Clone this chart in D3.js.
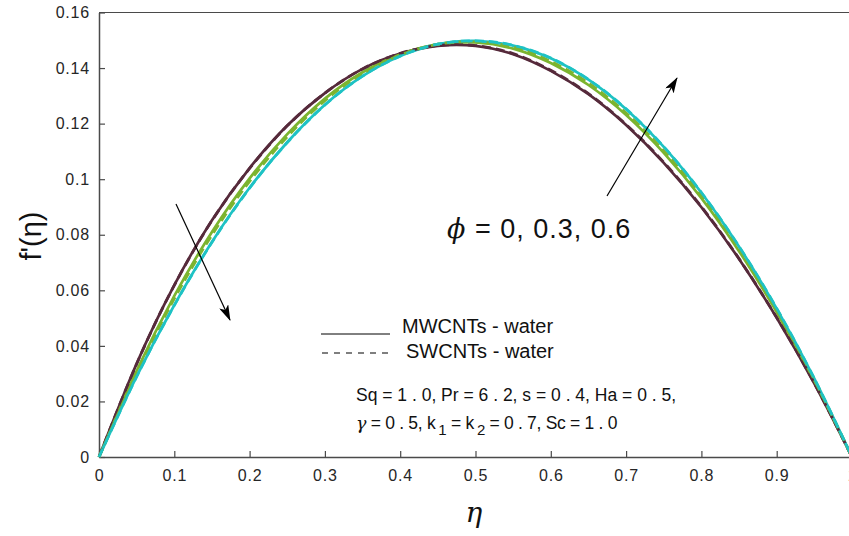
<!DOCTYPE html>
<html>
<head>
    <meta charset="utf-8">
    <title>f'(eta) profiles</title>
    <script src="https://cdnjs.cloudflare.com/ajax/libs/d3/7.8.5/d3.min.js"></script>
    <style>
        body{ margin:0; background:#fff; }
        text{ font-family: "Liberation Sans", Arial, sans-serif; }
    </style>
</head>
<body>
<script>
    // eta grid and f'(eta)
    const eta = [0, 0.05, 0.1, 0.15, 0.2, 0.25, 0.3, 0.35, 0.4, 0.45, 0.5,
                 0.55, 0.6, 0.65, 0.7, 0.75, 0.8, 0.85, 0.9, 0.95, 1];
    // MWCNTs - water (solid), phi = 0, 0.3, 0.6
    const mw0  = [0, 0.0336, 0.0619, 0.0852, 0.1040, 0.1193, 0.1310, 0.1397, 0.1452, 0.1480, 0.1480,
                  0.1450, 0.1390, 0.1306, 0.1195, 0.1059, 0.0899, 0.0713, 0.0501, 0.0264, 0];
    const mw03 = [0, 0.0310, 0.0580, 0.0810, 0.1003, 0.1162, 0.1290, 0.1385, 0.1449, 0.1485, 0.1492,
                  0.1470, 0.1418, 0.1339, 0.1231, 0.1095, 0.0932, 0.0741, 0.0522, 0.0275, 0];
    const mw06 = [0, 0.0290, 0.0547, 0.0774, 0.0969, 0.1133, 0.1268, 0.1371, 0.1443, 0.1486, 0.1498,
                  0.1481, 0.1435, 0.1358, 0.1252, 0.1116, 0.0951, 0.0757, 0.0534, 0.0282, 0];
    // SWCNTs - water (dashed)
    const sw0  = [0, 0.0335, 0.0618, 0.0851, 0.1039, 0.1192, 0.1310, 0.1397, 0.1453, 0.1481, 0.1481,
                  0.1452, 0.1392, 0.1308, 0.1197, 0.1061, 0.0901, 0.0714, 0.0502, 0.0265, 0];
    const sw03 = [0, 0.0303, 0.0570, 0.0799, 0.0992, 0.1153, 0.1283, 0.1380, 0.1447, 0.1486, 0.1494,
                  0.1475, 0.1424, 0.1346, 0.1238, 0.1102, 0.0939, 0.0747, 0.0526, 0.0277, 0];
    const sw06 = [0, 0.0289, 0.0546, 0.0773, 0.0968, 0.1132, 0.1267, 0.1371, 0.1443, 0.1486, 0.1498,
                  0.1482, 0.1436, 0.1359, 0.1253, 0.1117, 0.0952, 0.0758, 0.0535, 0.0282, 0];

    const xTicks = [0, 0.1, 0.2, 0.3, 0.4, 0.5, 0.6, 0.7, 0.8, 0.9, 1];
    const yTicks = [0, 0.02, 0.04, 0.06, 0.08, 0.1, 0.12, 0.14, 0.16];

    const colors = ['#562a3b', '#7cb42f', '#1ec2c4'];

    const svg = d3.select('body').append('svg')
        .attr('width', 849)
        .attr('height', 536);

    const x = d3.scaleLinear().domain([0, 1]).range([99, 852]);
    const y = d3.scaleLinear().domain([0, 0.16]).range([457, 12.5]);

    const axisColor = '#4a4a4a';

    // box (top + right edge)
    svg.append('line').attr('x1', x(0)).attr('x2', x(1)).attr('y1', y(0.16)).attr('y2', y(0.16))
        .attr('stroke', axisColor).attr('stroke-width', 1.2);
    svg.append('line').attr('x1', x(1)).attr('x2', x(1)).attr('y1', y(0)).attr('y2', y(0.16))
        .attr('stroke', axisColor).attr('stroke-width', 1.2);

    // axes, ticks pointing inward
    const xAxis = svg.append('g')
        .attr('transform', `translate(0,${y(0)})`)
        .call(d3.axisBottom(x).tickValues(xTicks).tickFormat(d3.format('')).tickSizeInner(-6).tickSizeOuter(0).tickPadding(13));
    const yAxis = svg.append('g')
        .attr('transform', `translate(${x(0)},0)`)
        .call(d3.axisLeft(y).tickValues(yTicks).tickFormat(d3.format('')).tickSizeInner(-6).tickSizeOuter(0).tickPadding(9));

    [xAxis, yAxis].forEach(a => {
        a.select('.domain').attr('stroke', axisColor).attr('stroke-width', 1.5);
        a.selectAll('.tick line').attr('stroke', axisColor).attr('stroke-width', 1.2);
        a.selectAll('.tick text').attr('fill', '#262626')
            .style('font-family', '"Liberation Sans", Arial, sans-serif')
            .style('font-size', '16px').style('letter-spacing', '0.8px');
    });

    // curves
    const lineGen = d3.line()
        .x((d, i) => x(eta[i]))
        .y(d => y(d))
        .curve(d3.curveNatural);

    const solid = [mw0, mw03, mw06];
    const dashed = [sw0, sw03, sw06];

    svg.append('g').selectAll('path').data(solid).enter()
        .append('path')
        .attr('d', lineGen)
        .attr('fill', 'none')
        .attr('stroke', (d, i) => colors[i])
        .attr('stroke-width', 2.7);

    svg.append('g').selectAll('path').data(dashed).enter()
        .append('path')
        .attr('d', lineGen)
        .attr('fill', 'none')
        .attr('stroke', (d, i) => colors[i])
        .attr('stroke-width', 2.8)
        .attr('stroke-dasharray', '9,5');

    // arrows
    const defs = svg.append('defs');
    defs.append('marker')
        .attr('id', 'head')
        .attr('viewBox', '0 0 16 10')
        .attr('refX', 15).attr('refY', 5)
        .attr('markerWidth', 16).attr('markerHeight', 10)
        .attr('markerUnits', 'userSpaceOnUse')
        .attr('orient', 'auto')
        .append('path').attr('d', 'M0,0L16,5L0,10L4,5Z').attr('fill', '#000');

    svg.append('line').attr('x1', 176).attr('y1', 204).attr('x2', 230).attr('y2', 320)
        .attr('stroke', '#000').attr('stroke-width', 1.2).attr('marker-end', 'url(#head)');
    svg.append('line').attr('x1', 607).attr('y1', 196).attr('x2', 677).attr('y2', 78)
        .attr('stroke', '#000').attr('stroke-width', 1.2).attr('marker-end', 'url(#head)');

    // phi annotation
    const phi = svg.append('text').attr('x', 447).attr('y', 238)
        .style('font-size', '27px').style('letter-spacing', '1px').attr('fill', '#111');
    phi.append('tspan').text('\u03d5').style('font-family', '"DejaVu Serif", serif').style('font-style', 'italic');
    phi.append('tspan').text(' = 0, 0.3, 0.6');

    // legend
    svg.append('line').attr('x1', 321).attr('x2', 390).attr('y1', 334).attr('y2', 334)
        .attr('stroke', '#000').attr('stroke-width', 1);
    svg.append('text').attr('x', 402).attr('y', 333).text('MWCNTs - water')
        .style('font-size', '20px').attr('fill', '#111');
    svg.append('line').attr('x1', 322).attr('x2', 392).attr('y1', 353).attr('y2', 353)
        .attr('stroke', '#000').attr('stroke-width', 1.2).attr('stroke-dasharray', '6,6');
    svg.append('text').attr('x', 406).attr('y', 358).text('SWCNTs - water')
        .style('font-size', '20px').attr('fill', '#111');

    // parameters
    svg.append('text').attr('x', 356).attr('y', 401)
        .text('Sq = 1 . 0, Pr = 6 . 2, s = 0 . 4, Ha = 0 . 5,')
        .style('font-size', '17.5px').attr('fill', '#111');
    const p2 = svg.append('text').attr('x', 356).attr('y', 429)
        .style('font-size', '17.5px').style('letter-spacing', '-0.3px').attr('fill', '#111');
    p2.append('tspan').text('\u03b3').style('font-family', '"DejaVu Serif", serif').style('font-style', 'italic');
    p2.append('tspan').text(' = 0 . 5, k');
    p2.append('tspan').text('1').attr('dx', 3).attr('dy', 6).style('font-size', '15px');
    p2.append('tspan').text(' = k').attr('dy', -6);
    p2.append('tspan').text('2').attr('dx', 3).attr('dy', 6).style('font-size', '15px');
    p2.append('tspan').text(' = 0 . 7, Sc = 1 . 0').attr('dy', -6);

    // axis labels
    svg.append('text').attr('transform', 'translate(41,236) rotate(-90)')
        .attr('text-anchor', 'middle').style('font-size', '29px').attr('fill', '#111')
        .text("f'(\u03b7)");
    svg.append('text').attr('x', 474).attr('y', 522).attr('text-anchor', 'middle')
        .style('font-size', '28px').style('font-family', '"DejaVu Serif", serif').style('font-style', 'italic')
        .attr('fill', '#111').text('\u03b7');
</script>
</body>
</html>
